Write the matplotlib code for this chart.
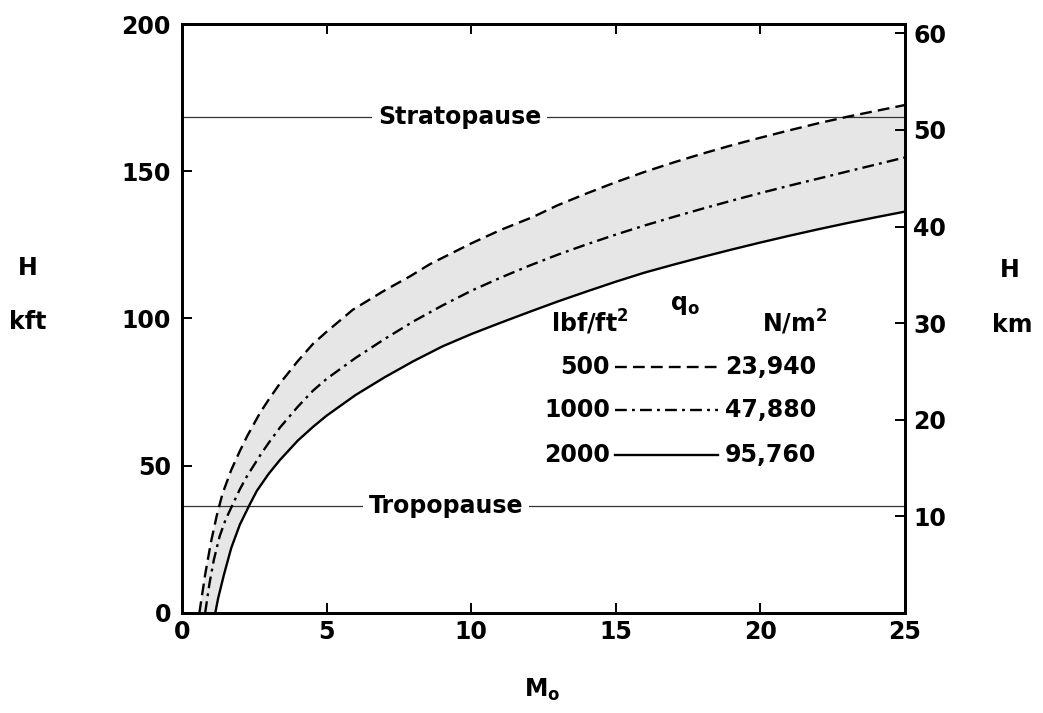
import numpy as np
import matplotlib
matplotlib.use('Agg')
import matplotlib.pyplot as plt

plt.rcParams['font.family'] = ['DejaVu Sans']
plt.rcParams['font.weight'] = 'bold'
plt.rcParams['mathtext.default'] = 'regular'
plt.rcParams['hatch.color'] = '#b0b0b0'
plt.rcParams['hatch.linewidth'] = 0.6

# q0 = 500 lbf/ft2 (dashed)
m_500 = [0.6, 0.8, 1.0, 1.2, 1.4, 1.7, 2.0, 2.25, 2.7, 3.0, 3.39, 4.0, 4.53, 5.0, 5.91, 7.0, 7.88,
         8.58, 10, 11, 12.14, 13, 14, 15, 16, 17, 18, 19, 20, 21, 22, 23, 24, 25]
h_500 = [0, 13, 24, 33, 40.5, 48.5, 55, 60, 68, 72.5, 78, 85.5, 91.4, 95.5, 103, 109.5, 114.3,
         118.5, 125.5, 130, 134.5, 138.5, 142.5, 146.3, 149.8, 153, 156, 158.8, 161.4, 163.9, 166.3, 168.5, 170.5, 172.5]
# q0 = 1000 lbf/ft2 (dash-dot)
m_1000 = [0.8, 0.95, 1.1, 1.3, 1.5, 1.76, 2.0, 2.25, 2.7, 3.0, 3.39, 4.0, 4.53, 5, 6, 7, 8, 9, 10,
          11, 12, 13, 14, 15, 16, 17, 18, 19, 20, 21, 22, 23, 24, 25]
h_1000 = [0, 10, 18, 26, 31.5, 37, 42, 46.5, 53.5, 57.8, 63, 70, 75.5, 79.5, 86.6, 93, 99, 104.4, 109.4,
          113.8, 117.9, 121.7, 125.2, 128.5, 131.6, 134.5, 137.3, 140.0, 142.6, 145.1, 147.5, 149.9, 152.3, 154.7]
# q0 = 2000 lbf/ft2 (solid)
m_2000 = [1.15, 1.25, 1.45, 1.7, 2.0, 2.35, 2.59, 3.0, 3.39, 4.0, 4.53, 5, 6, 7, 8, 9, 10, 11, 12,
          13, 14, 15, 16, 17, 18, 19, 20, 21, 22, 23, 24, 25]
h_2000 = [0, 5, 13, 22, 30, 37, 41.5, 47.3, 52, 58.5, 63.2, 67, 74, 80, 85.5, 90.5, 94.7, 98.5, 102.2,
          105.8, 109.2, 112.5, 115.6, 118.3, 120.9, 123.4, 125.8, 128.1, 130.3, 132.4, 134.4, 136.3]

stratopause = 168.4
tropopause = 36.3

q_lbf = ['500', '1000', '2000']
q_si = ['23,940', '47,880', '95,760']

x_ticks = [0, 5, 10, 15, 20, 25]
y_ticks = [0, 50, 100, 150, 200]
km_ticks = [10, 20, 30, 40, 50, 60]

fig = plt.figure(figsize=(10.43, 7.13), dpi=100)
ax = fig.add_axes([0.1745, 0.1403, 0.6932, 0.826])

fs = 17

# shaded band between the 500 and 2000 curves
band_x = np.concatenate([m_500, m_2000[::-1]])
band_y = np.concatenate([h_500, h_2000[::-1]])
ax.fill(band_x, band_y, facecolor='#e6e6e6', edgecolor='none', hatch='.....', lw=0, zorder=1)

dash = (5, 2.6)
dashdot = (5, 2.2, 1.2, 2.2)
ax.plot(m_500, h_500, color='black', lw=1.7, dashes=dash, zorder=3)
ax.plot(m_1000, h_1000, color='black', lw=1.7, dashes=dashdot, zorder=3)
ax.plot(m_2000, h_2000, color='black', lw=1.7, zorder=3)

ax.axhline(stratopause, color='#333333', lw=0.9, zorder=2)
ax.axhline(tropopause, color='#333333', lw=0.9, zorder=2)
ax.text(9.6, stratopause, 'Stratopause', fontsize=fs, ha='center', va='center',
        bbox=dict(facecolor='white', edgecolor='none', pad=4), zorder=4)
ax.text(9.13, tropopause, 'Tropopause', fontsize=fs, ha='center', va='center',
        bbox=dict(facecolor='white', edgecolor='none', pad=4), zorder=4)

# key
ax.text(17.4, 104.6, '$\\mathbf{q_o}$', fontsize=fs, ha='center', va='center')
ax.text(14.1, 98.5, 'lbf/ft$^\\mathbf{2}$', fontsize=fs, ha='center', va='center')
ax.text(21.2, 98.5, 'N/m$^\\mathbf{2}$', fontsize=fs, ha='center', va='center')
key_y = [83.5, 68.8, 53.6]
key_dashes = [dash, dashdot, None]
for lbf, si, yy, d in zip(q_lbf, q_si, key_y, key_dashes):
    ax.text(14.8, yy, lbf, fontsize=fs, ha='right', va='center')
    ln, = ax.plot([14.97, 18.53], [yy, yy], color='black', lw=1.7)
    if d:
        ln.set_dashes(d)
    ax.text(18.78, yy, si, fontsize=fs, ha='left', va='center')

ax.set_xlim(0, 25)
ax.set_ylim(0, 200)
ax.set_xticks(x_ticks)
ax.set_yticks(y_ticks)
ax.tick_params(direction='in', length=7, width=1.4, labelsize=fs, top=True, pad=5)
ax.tick_params(axis='y', pad=8)
for s in ax.spines.values():
    s.set_linewidth(2)

ax2 = ax.twinx()
ax2.set_ylim(0, 200 * 0.3048)
ax2.set_yticks(km_ticks)
ax2.tick_params(direction='in', length=7, width=1.4, labelsize=fs, pad=6)
for s in ax2.spines.values():
    s.set_linewidth(2)

fig.text(28 / 1043, 1 - 268 / 713, 'H', fontsize=fs, ha='center', va='center')
fig.text(28 / 1043, 1 - 322 / 713, 'kft', fontsize=fs, ha='center', va='center')
fig.text(1010 / 1043, 1 - 270 / 713, 'H', fontsize=fs, ha='center', va='center')
fig.text(1012 / 1043, 1 - 325 / 713, 'km', fontsize=fs, ha='center', va='center')
fig.text(542 / 1043, 1 - 690 / 713, '$\\mathbf{M_o}$', fontsize=fs, ha='center', va='center')

fig.savefig('out.png', dpi=100)
